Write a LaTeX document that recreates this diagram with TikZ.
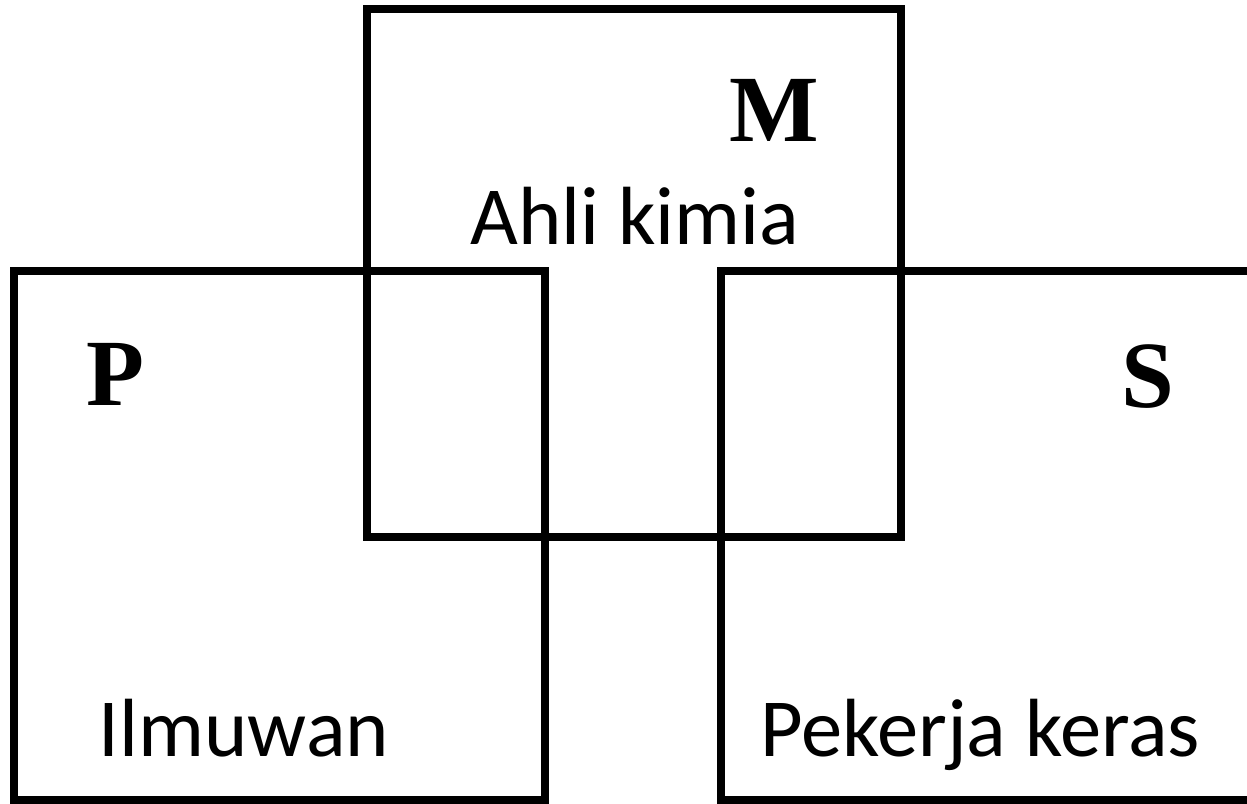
\documentclass[tikz,border=0pt]{standalone}
\usepackage{fontspec}
\setmainfont{Liberation Serif}
\newfontfamily\labelfont{Carlito}
\usepackage{tikz}
\usetikzlibrary{positioning}

\tikzset{
  setbox/.style={draw=black,line width=4.3pt},
  setletter/.style={font=\fontsize{54}{54}\selectfont\bfseries,anchor=base,inner sep=0pt},
  setlabel/.style={font=\labelfont\fontsize{47}{47}\selectfont,anchor=base,inner sep=0pt}
}

\begin{document}
\begin{tikzpicture}[x=0.02cm,y=-0.02cm]
  \useasboundingbox (0,0) rectangle (1247,804);
  \clip (0,0) rectangle (1247,804);
  % the three sets
  \draw[setbox] (367,9) rectangle (901,537);
  \draw[setbox] (14,271) rectangle (545,800);
  \draw[setbox] (721,271) rectangle (1275,800);
  % set letters
  \node[setletter] (letterM) at (774,142) {M};
  \node[setletter] (letterP) at (115,405) {P};
  \node[setletter] (letterS) at (1148,407) {S};
  % set names
  \node[setlabel] (kimia) at (635,245) {Ahli kimia};
  \node[setlabel] (ilmuwan) at (244,756) {Ilmuwan};
  \node[setlabel] (keras) at (980,756) {Pekerja keras};
\end{tikzpicture}
\end{document}
